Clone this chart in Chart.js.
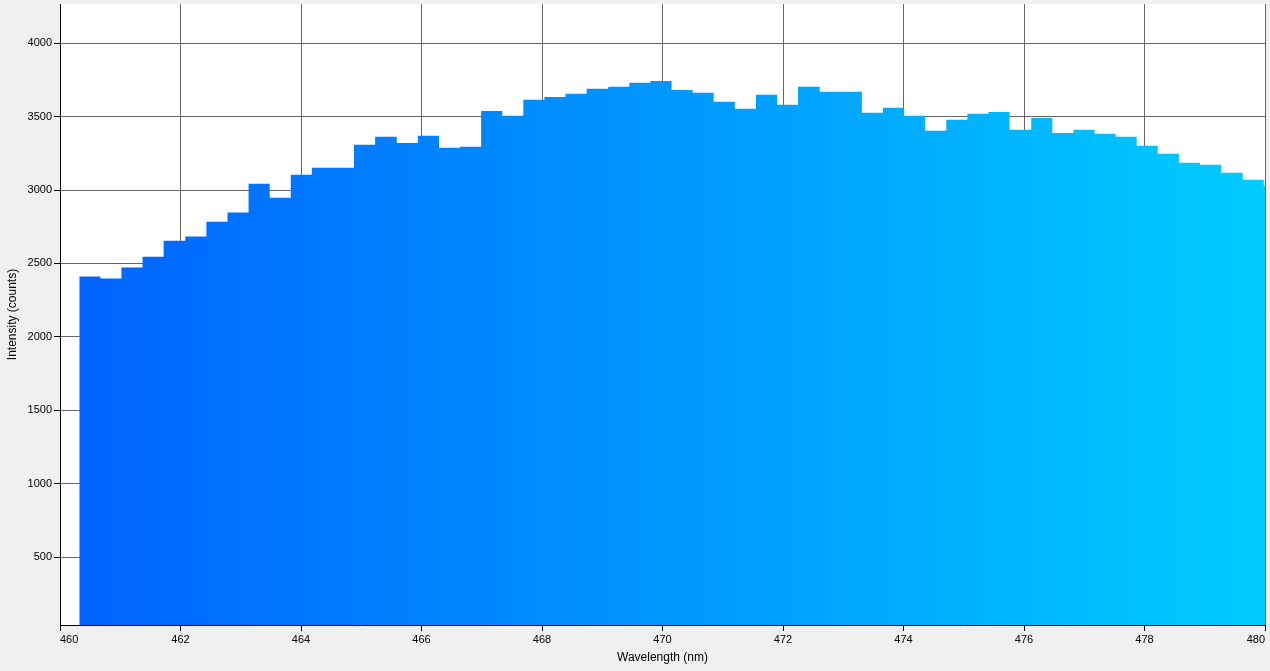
<!DOCTYPE html>
<html>
<head>
<meta charset="utf-8">
<script src="https://cdn.jsdelivr.net/npm/chart.js@4.4.1/dist/chart.umd.min.js"></script>
<style>
    html, body { margin: 0; padding: 0; background: #f0f0f0; }
    #chart { display: block; }
</style>
</head>
<body>
<canvas id="chart" width="1270" height="671"></canvas>
<script>
// bin start wavelengths (nm), last entry is the right edge of the final bin
const binEdges = [
    460.32, 460.67, 461.02, 461.37, 461.72, 462.08, 462.43, 462.78, 463.13, 463.48,
    463.83, 464.18, 464.53, 464.88, 465.23, 465.59, 465.94, 466.29, 466.64, 466.99,
    467.34, 467.69, 468.04, 468.39, 468.74, 469.10, 469.45, 469.80, 470.15, 470.50,
    470.85, 471.20, 471.55, 471.90, 472.25, 472.61, 472.96, 473.31, 473.66, 474.01,
    474.36, 474.71, 475.06, 475.41, 475.76, 476.12, 476.47, 476.82, 477.17, 477.52,
    477.87, 478.22, 478.57, 478.92, 479.27, 479.63, 479.98, 480.33
];

// counts per bin
const intensities = [
    2410, 2397, 2472, 2546, 2655, 2683, 2784, 2846, 3043, 2948,
    3104, 3152, 3152, 3308, 3362, 3321, 3369, 3288, 3294, 3539,
    3505, 3614, 3634, 3655, 3689, 3703, 3730, 3743, 3682, 3662,
    3601, 3553, 3648, 3580, 3703, 3669, 3669, 3526, 3560, 3505,
    3403, 3478, 3519, 3532, 3410, 3491, 3389, 3410, 3383, 3362,
    3301, 3247, 3186, 3172, 3118, 3070, 3029
];

const xTicks = [460, 462, 464, 466, 468, 470, 472, 474, 476, 478, 480];
const yTicks = [500, 1000, 1500, 2000, 2500, 3000, 3500, 4000];

const points = intensities.map((v, i) => ({ x: binEdges[i], y: v }));
points.push({ x: binEdges[binEdges.length - 1], y: intensities[intensities.length - 1] });

const plotBackground = {
    id: 'plotBackground',
    beforeDraw(chart) {
        const { ctx, chartArea } = chart;
        ctx.save();
        ctx.fillStyle = '#ffffff';
        ctx.fillRect(chartArea.left, chartArea.top, chartArea.right - chartArea.left, chartArea.bottom - chartArea.top);
        ctx.restore();
    }
};

function spectrumFill(context) {
    const area = context.chart.chartArea;
    if (!area) {
        return '#0090ff';
    }
    const g = context.chart.ctx.createLinearGradient(area.left, 0, area.right, 0);
    g.addColorStop(0, '#0062ff');
    g.addColorStop(1, '#00ccff');
    return g;
}

// no extra room for overhanging labels, the plot box is fixed
function fixBox(scale, size) {
    if (scale.isHorizontal()) {
        scale.height = size;
    } else {
        scale.width = size;
    }
    scale.paddingTop = 0;
    scale.paddingBottom = 0;
    scale.paddingLeft = 0;
    scale.paddingRight = 0;
}

const tickFont = { family: '"Liberation Sans", Arial, sans-serif', size: 11 };
const titleFont = { family: '"Liberation Sans", Arial, sans-serif', size: 12 };

new Chart(document.getElementById('chart'), {
    type: 'line',
    data: {
        datasets: [{
            data: points,
            stepped: 'before',
            fill: 'start',
            backgroundColor: spectrumFill,
            borderWidth: 0,
            borderColor: 'rgba(0,0,0,0)',
            pointRadius: 0
        }]
    },
    options: {
        responsive: false,
        devicePixelRatio: 1,
        animation: false,
        layout: { padding: { top: 4, right: 5, left: 0, bottom: 0 } },
        plugins: {
            legend: { display: false },
            tooltip: { enabled: false }
        },
        scales: {
            x: {
                type: 'linear',
                min: 460,
                max: 480,
                afterBuildTicks: (scale) => { scale.ticks = xTicks.map(v => ({ value: v })); },
                afterFit: (scale) => fixBox(scale, 46),
                grid: { color: '#666666', tickColor: '#000000', tickLength: 6 },
                border: { color: '#000000' },
                ticks: {
                    color: '#000000',
                    font: tickFont,
                    padding: 2,
                    maxRotation: 0,
                    align: 'inner',
                    callback: (v) => String(v)
                },
                title: { display: true, text: 'Wavelength (nm)', color: '#000000', font: titleFont, padding: { top: 0, bottom: 6 } }
            },
            y: {
                type: 'linear',
                min: 37,
                max: 4267,
                afterBuildTicks: (scale) => { scale.ticks = yTicks.map(v => ({ value: v })); },
                afterFit: (scale) => fixBox(scale, 60),
                grid: { color: '#666666', tickColor: '#000000', tickLength: 6 },
                border: { color: '#000000' },
                ticks: { color: '#000000', font: tickFont, padding: 2, callback: (v) => String(v) },
                title: { display: true, text: 'Intensity (counts)', color: '#000000', font: titleFont, padding: { top: 5, bottom: 0 } }
            }
        }
    },
    plugins: [plotBackground]
});
</script>
</body>
</html>
